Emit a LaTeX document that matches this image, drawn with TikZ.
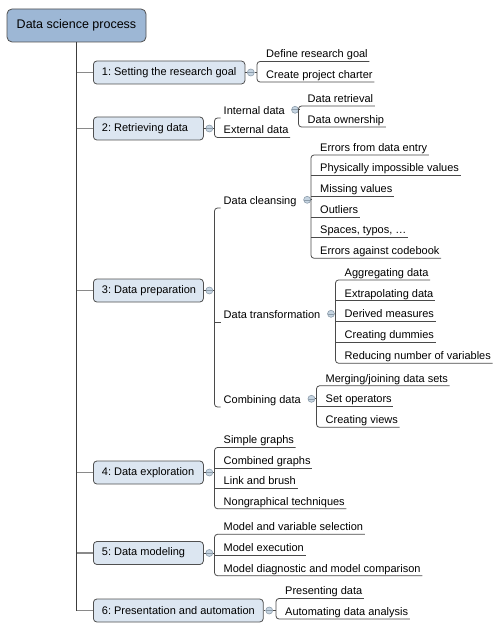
\documentclass[tikz,border=0pt]{standalone}
\usepackage{fontspec}
\setmainfont{Liberation Sans}
\usetikzlibrary{calc}
\frenchspacing
\definecolor{rootfill}{HTML}{9DB7D5}
\definecolor{boxfill}{HTML}{DCE6F1}
\definecolor{boxdraw}{HTML}{505050}
\definecolor{linegray}{HTML}{4A4A4A}
\definecolor{trunkgray}{HTML}{3C3C3C}
\definecolor{spokegray}{HTML}{8A8A8A}
\definecolor{circfill}{HTML}{C6D5E2}
\definecolor{circdraw}{HTML}{8C9CAA}
\newcommand{\fixw}[1]{\makebox[93pt][l]{#1}}
\begin{document}
\begin{tikzpicture}[x=1pt,y=-1pt,
  rootbox/.style={draw=boxdraw,fill=rootfill,line width=0.8pt,rounded corners=5pt,
    minimum width=139pt,minimum height=33pt,inner sep=0pt,font=\fontsize{12.5}{15}\selectfont},
  lonebox/.style={draw=boxdraw,fill=boxfill,line width=0.8pt,rounded corners=3.5pt,
    anchor=west,minimum height=23pt,inner xsep=8.5pt,inner ysep=0pt,
    font=\fontsize{11}{13}\selectfont},
  leaf/.style={anchor=south west,inner xsep=0pt,inner ysep=3.5pt,text depth=0pt,
    font=\fontsize{11}{13}\selectfont},
  conn/.style={draw=linegray,line width=0.8pt},
  bracket/.style={conn,rounded corners=3pt},
  trunk/.style={draw=trunkgray,line width=0.9pt},
  spoke/.style={draw=spokegray,line width=1.1pt},
  circ/.style={circle,draw=circdraw,fill=circfill,line width=0.6pt,minimum size=7pt,inner sep=0pt,
    path picture={\draw[circdraw,line width=0.6pt] ([xshift=-3.5pt]path picture bounding box.center) -- ([xshift=3.5pt]path picture bounding box.center);}}
]
\useasboundingbox (0,0) rectangle (503,631);

% root
\node[rootbox] (root) at (76.5,25.5) {Data science process};

% level 1 boxes
\node[lonebox] (n1) at (93,72.5) {1: Setting the research goal};
\node[lonebox] (n2) at (93,128.5) {\fixw{2: Retrieving data}};
\node[lonebox] (n3) at (93,290.5) {\fixw{3: Data preparation}};
\node[lonebox] (n4) at (93,472.5) {\fixw{4: Data exploration}};
\node[lonebox] (n5) at (93,553) {\fixw{5: Data modeling}};
\node[lonebox] (n6) at (93,610.5) {6: Presentation and automation};

% trunk and spokes
\draw[trunk] (root.south) -- (root.south |- n6.west);
\foreach \k in {1,...,6}{\draw[spoke] (root.south |- n\k.west) -- (n\k.west);}

% circles on level 1
\foreach \k in {1,...,6}{\node[circ] (c\k) at ([xshift=5.5pt]n\k.east) {};}

% ---------- group 1
\node[leaf] (l11) at (266,61.5) {Define research goal};
\node[leaf] (l12) at (266,82) {Create project charter};
\coordinate (g1) at ([xshift=-9pt]l11.south west);

% ---------- group 2
\node[leaf] (l21) at (223.5,118) {Internal data};
\node[leaf] (l22) at (223.5,137.5) {External data};
\coordinate (g2) at ([xshift=-9pt]l21.south west);
\node[circ] (c21) at ([shift={(10pt,4.5pt)}]l21.base east) {};
\node[leaf] (l211) at (307.5,106) {Data retrieval};
\node[leaf] (l212) at (307.5,127) {Data ownership};
\coordinate (g21) at ([xshift=-9pt]l211.south west);

% ---------- group 3
\node[leaf] (l31) at (223.5,208) {Data cleansing};
\node[leaf] (l32) at (223.5,322) {Data transformation};
\node[leaf] (l33) at (223.5,407) {Combining data};
\coordinate (g3) at ([xshift=-9pt]l31.south west);
\node[circ] (c31) at ([shift={(10.5pt,4.5pt)}]l31.base east) {};
\node[circ] (c32) at ([shift={(10.5pt,4.5pt)}]l32.base east) {};
\node[circ] (c33) at ([shift={(10.5pt,4.5pt)}]l33.base east) {};

\node[leaf] (l311) at (320,155) {Errors from data entry};
\node[leaf] (l312) at (320,175.65) {Physically impossible values};
\node[leaf] (l313) at (320,196.3) {Missing values};
\node[leaf] (l314) at (320,216.95) {Outliers};
\node[leaf] (l315) at (320,237.6) {Spaces, typos, …};
\node[leaf] (l316) at (320,258.25) {Errors against codebook};
\coordinate (g31) at ([xshift=-9pt]l311.south west);

\node[leaf] (l321) at (344.5,280) {Aggregating data};
\node[leaf] (l322) at (344.5,300.8) {Extrapolating data};
\node[leaf] (l323) at (344.5,321.6) {Derived measures};
\node[leaf] (l324) at (344.5,342.4) {Creating dummies};
\node[leaf] (l325) at (344.5,363.2) {Reducing number of variables};
\coordinate (g32) at ([xshift=-9pt]l321.south west);

\node[leaf] (l331) at (325.5,385.8) {Merging/joining data sets};
\node[leaf] (l332) at (325.5,406.6) {Set operators};
\node[leaf] (l333) at (325.5,427.3) {Creating views};
\coordinate (g33) at ([xshift=-9pt]l331.south west);

% ---------- group 4
\node[leaf] (l41) at (223.5,447.5) {Simple graphs};
\node[leaf] (l42) at (223.5,468) {Combined graphs};
\node[leaf] (l43) at (223.5,488.3) {Link and brush};
\node[leaf] (l44) at (223.5,508.7) {Nongraphical techniques};
\coordinate (g4) at ([xshift=-9pt]l41.south west);

% ---------- group 5
\node[leaf] (l51) at (223.5,534.3) {Model and variable selection};
\node[leaf] (l52) at (223.5,555) {Model execution};
\node[leaf] (l53) at (223.5,575.7) {Model diagnostic and model comparison};
\coordinate (g5) at ([xshift=-9pt]l51.south west);

% ---------- group 6
\node[leaf] (l61) at (285,598.5) {Presenting data};
\node[leaf] (l62) at (285,619) {Automating data analysis};
\coordinate (g6) at ([xshift=-9pt]l61.south west);

% ---------- connectors: box -> circle -> bracket
\foreach \k in {1,...,6}{
  \draw[conn] (n\k.east) -- (c\k.west);
  \draw[conn] (c\k.east) -- (c\k.east -| g\k);
}
\draw[conn] (c21.east) -- (c21.east -| g21);
\draw[conn] (c31.east) -- (c31.east -| g31);
\draw[conn] (c32.east) -- (c32.east -| g32);
\draw[conn] (c33.east) -- (c33.east -| g33);

% brackets with leaf underlines
\draw[bracket] ([xshift=1.5pt]l11.south east) -- (g1) -- ([xshift=-9pt]l12.south west) -- ([xshift=1.5pt]l12.south east);

\draw[bracket] ([xshift=-3pt]l21.south west) -- (g2) -- ([xshift=-9pt]l22.south west) -- ([xshift=1.5pt]l22.south east);
\draw[bracket] ([xshift=1.5pt]l211.south east) -- (g21) -- ([xshift=-9pt]l212.south west) -- ([xshift=1.5pt]l212.south east);

\draw[bracket] ([xshift=-3pt]l31.south west) -- (g3) -- ([xshift=-9pt]l33.south west) -- ([xshift=-3pt]l33.south west);
\draw[conn] ([xshift=-9pt]l32.south west) -- ([xshift=-3pt]l32.south west);

\draw[bracket] ([xshift=1.5pt]l311.south east) -- (g31) -- ([xshift=-9pt]l316.south west) -- ([xshift=1.5pt]l316.south east);
\foreach \m in {l312,l313,l314,l315}{\draw[conn] ([xshift=-9pt]\m.south west) -- ([xshift=1.5pt]\m.south east);}

\draw[bracket] ([xshift=1.5pt]l321.south east) -- (g32) -- ([xshift=-9pt]l325.south west) -- ([xshift=1.5pt]l325.south east);
\foreach \m in {l322,l323,l324}{\draw[conn] ([xshift=-9pt]\m.south west) -- ([xshift=1.5pt]\m.south east);}

\draw[bracket] ([xshift=1.5pt]l331.south east) -- (g33) -- ([xshift=-9pt]l333.south west) -- ([xshift=1.5pt]l333.south east);
\draw[conn] ([xshift=-9pt]l332.south west) -- ([xshift=1.5pt]l332.south east);

\draw[bracket] ([xshift=1.5pt]l41.south east) -- (g4) -- ([xshift=-9pt]l44.south west) -- ([xshift=1.5pt]l44.south east);
\foreach \m in {l42,l43}{\draw[conn] ([xshift=-9pt]\m.south west) -- ([xshift=1.5pt]\m.south east);}

\draw[bracket] ([xshift=1.5pt]l51.south east) -- (g5) -- ([xshift=-9pt]l53.south west) -- ([xshift=1.5pt]l53.south east);
\draw[conn] ([xshift=-9pt]l52.south west) -- ([xshift=1.5pt]l52.south east);

\draw[bracket] ([xshift=1.5pt]l61.south east) -- (g6) -- ([xshift=-9pt]l62.south west) -- ([xshift=1.5pt]l62.south east);
\end{tikzpicture}
\end{document}
